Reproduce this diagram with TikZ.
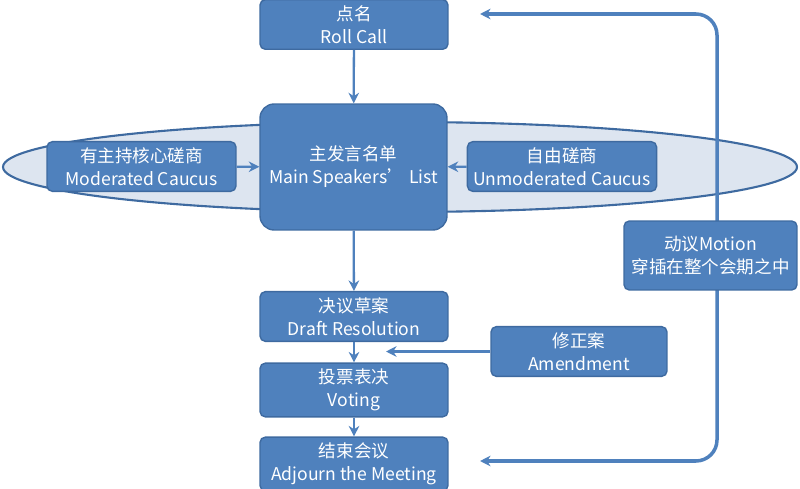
\documentclass[tikz,border=0pt]{standalone}
\usepackage{fontspec}
\setmainfont{Noto Sans CJK SC}
\usetikzlibrary{arrows.meta, positioning}
\definecolor{boxblue}{RGB}{79,129,189}
\definecolor{edgeblue}{RGB}{62,106,160}
\definecolor{palebg}{RGB}{221,229,240}
\tikzset{>={Stealth[length=6pt,width=6pt]},
  stage/.style={draw=edgeblue, fill=boxblue, rounded corners=3pt, text=white, align=center,
    font=\fontsize{10}{13}\selectfont, line width=0.8pt},
  flow/.style={->, draw=boxblue, line width=1.3pt}}
\begin{document}
\begin{tikzpicture}[x=0.02cm, y=-0.02cm]
  \useasboundingbox (0,0) rectangle (800,489);

  \draw[edgeblue, fill=palebg, line width=1.2pt] (400,167) ellipse [x radius=397, y radius=45];

  % return loop, behind the motion box
  \coordinate (toptip) at (480,14);
  \coordinate (bottip) at (480,461);
  \coordinate (loopmid) at (717,250);
  \draw[flow, <->, line width=2pt, rounded corners=12pt] (toptip) -| (loopmid) |- (bottip);

  \node[stage, minimum width=3.76cm, minimum height=0.9cm] (roll) at (354,24.5) {点名\\Roll Call};
  \node[stage, minimum width=3.74cm, minimum height=2.52cm, rounded corners=8pt] (main) at (353.5,167) {主发言名单\\Main Speakers’ List};
  \node[stage, minimum width=3.78cm, minimum height=0.94cm] (mod) at (141.5,166.5) {有主持核心磋商\\Moderated Caucus};
  \node[stage, minimum width=3.76cm, minimum height=0.94cm] (unmod) at (562,166.5) {自由磋商\\Unmoderated Caucus};
  \node[stage, minimum width=3.76cm, minimum height=0.94cm] (draft) at (354,316.5) {决议草案\\Draft Resolution};
  \node[stage, minimum width=3.52cm, minimum height=0.98cm] (amend) at (579,351.5) {修正案\\Amendment};
  \node[stage, minimum width=3.76cm, minimum height=0.92cm] (vote) at (354,390) {投票表决\\Voting};
  \node[stage, minimum width=3.76cm, minimum height=0.96cm] (adjourn) at (354,464) {结束会议\\Adjourn the Meeting};
  \node[stage, minimum width=3.46cm, minimum height=1.38cm] (motion) at (710.5,255.5) {动议Motion\\穿插在整个会期之中};

  \coordinate (amendend) at (386,351.5);

  \draw[flow] (roll) -- (main);
  \draw[flow] (main) -- (draft);
  \draw[flow] (draft) -- (vote);
  \draw[flow] (vote) -- (adjourn);
  \draw[flow] (mod) -- (main);
  \draw[flow] (unmod) -- (main);
  \draw[flow] (amend) -- (amendend);
\end{tikzpicture}
\end{document}
